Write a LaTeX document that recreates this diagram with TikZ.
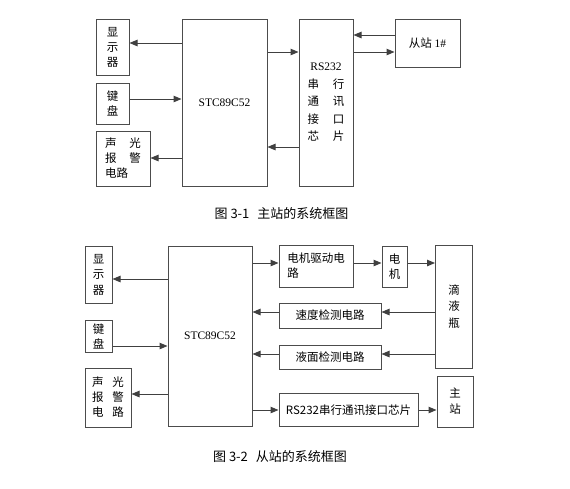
\documentclass[tikz,border=0pt]{standalone}
\usepackage{fontspec}
\setmainfont{Liberation Serif}
\newfontfamily\cjk{Noto Sans CJK SC}
\usetikzlibrary{arrows.meta}
\begin{document}
\begin{tikzpicture}[x=1pt, y=-1pt, >={Triangle[length=8pt, width=6.5pt]}]
	\tikzset{
		blk/.style={draw=black!70, line width=1pt, inner sep=0pt, align=center, font=\cjk\fontsize{11.5}{15}\selectfont},
		conn/.style={->, draw=black!75, line width=1pt},
		captxt/.style={font=\cjk\fontsize{13}{15}\selectfont}
	}
	\useasboundingbox (0,0) rectangle (570,488);
	\foreach \n/\y in {r1/35, r2/43, r3/52, r4/99, r5/147, r6/158,
			s1/263, s2/279, s3/312, s4/346, s5/354, s6/394, s7/410}
		\coordinate (\n) at (0,\y);

	\node[blk, minimum width=33pt, minimum height=56pt] (disp1) at (112.5,47) {显\\示\\器};
	\node[blk, minimum width=33pt, minimum height=41pt] (key1) at (112.5,103.5) {键\\盘};
	\node[blk, minimum width=54pt, minimum height=55pt, align=left] (alarm1) at (123,158.5)
	{声\hspace{13pt}光\\报\hspace{13pt}警\\电路};
	\node[blk, minimum width=85pt, minimum height=167pt, font=\rmfamily\fontsize{11.5}{14}\selectfont]
	(mcu1) at (224.5,102.5) {STC89C52};
	\node[blk, minimum width=54pt, minimum height=167pt, font=\cjk\fontsize{11.5}{17.5}\selectfont]
	(rs1) at (326,102.5) {{\rmfamily RS232}\\串\hspace{14pt}行\\通\hspace{14pt}讯\\接\hspace{14pt}口\\芯\hspace{14pt}片};
	\node[blk, minimum width=65pt, minimum height=48pt] (slave1) at (427.5,43) {从站 {\rmfamily 1\#}};

	\draw[conn] (mcu1.west |- r2) -- (disp1.east |- r2);
	\draw[conn] (key1.east |- r4) -- (mcu1.west |- r4);
	\draw[conn] (mcu1.west |- r6) -- (alarm1.east |- r6);
	\draw[conn] (mcu1.east |- r3) -- (rs1.west |- r3);
	\draw[conn] (rs1.west |- r5) -- (mcu1.east |- r5);
	\draw[conn] (slave1.west |- r1) -- (rs1.east |- r1);
	\draw[conn] (rs1.east |- r3) -- (slave1.west |- r3);

	\node[captxt] (cap1) at (281.5,214) {图\hspace{3pt}3-1\hspace{8pt}主站的系统框图};

	\node[blk, minimum width=27pt, minimum height=57pt, font=\cjk\fontsize{11.5}{15.5}\selectfont]
	(disp2) at (98.5,274.5) {显\\示\\器};
	\node[blk, minimum width=27pt, minimum height=32pt] (key2) at (98.5,336) {键\\盘};
	\node[blk, minimum width=46pt, minimum height=59pt] (alarm2) at (108,397.5)
	{声\hspace{9pt}光\\报\hspace{9pt}警\\电\hspace{9pt}路};
	\node[blk, minimum width=84pt, minimum height=180pt, font=\rmfamily\fontsize{11.5}{14}\selectfont]
	(mcu2) at (210,336) {STC89C52};
	\node[blk, minimum width=74pt, minimum height=42pt, align=left] (drv) at (316,266) {电机驱动电\\路};
	\node[blk, minimum width=25pt, minimum height=41pt] (motor) at (394.5,266.5) {电\\机};
	\node[blk, minimum width=37pt, minimum height=123pt, font=\cjk\fontsize{11.5}{16.5}\selectfont]
	(bottle) at (454,306.5) {滴\\液\\瓶};
	\node[blk, minimum width=102pt, minimum height=25pt] (speed) at (330,315.5) {速度检测电路};
	\node[blk, minimum width=102pt, minimum height=24pt] (level) at (330,357) {液面检测电路};
	\node[blk, minimum width=36pt, minimum height=51pt, font=\cjk\fontsize{11.5}{16}\selectfont]
	(master) at (455,401.5) {主\\站};
	\node[blk, minimum width=139pt, minimum height=33pt] (rs2) at (348.5,410) {RS232串行通讯接口芯片};

	\draw[conn] (mcu2.west |- s2) -- (disp2.east |- s2);
	\draw[conn] (key2.east |- s4) -- (mcu2.west |- s4);
	\draw[conn] (mcu2.west |- s6) -- (alarm2.east |- s6);
	\draw[conn] (mcu2.east |- s1) -- (drv.west |- s1);
	\draw[conn] (drv.east |- s1) -- (motor.west |- s1);
	\draw[conn] (motor.east |- s1) -- (bottle.west |- s1);
	\draw[conn] (bottle.west |- s3) -- (speed.east |- s3);
	\draw[conn] (speed.west |- s3) -- (mcu2.east |- s3);
	\draw[conn] (bottle.west |- s5) -- (level.east |- s5);
	\draw[conn] (level.west |- s5) -- (mcu2.east |- s5);
	\draw[conn] (mcu2.east |- s7) -- (rs2.west |- s7);
	\draw[conn] (rs2.east |- s7) -- (master.west |- s7);

	\node[captxt] (cap2) at (280,457) {图\hspace{3pt}3-2\hspace{8pt}从站的系统框图};
\end{tikzpicture}
\end{document}
